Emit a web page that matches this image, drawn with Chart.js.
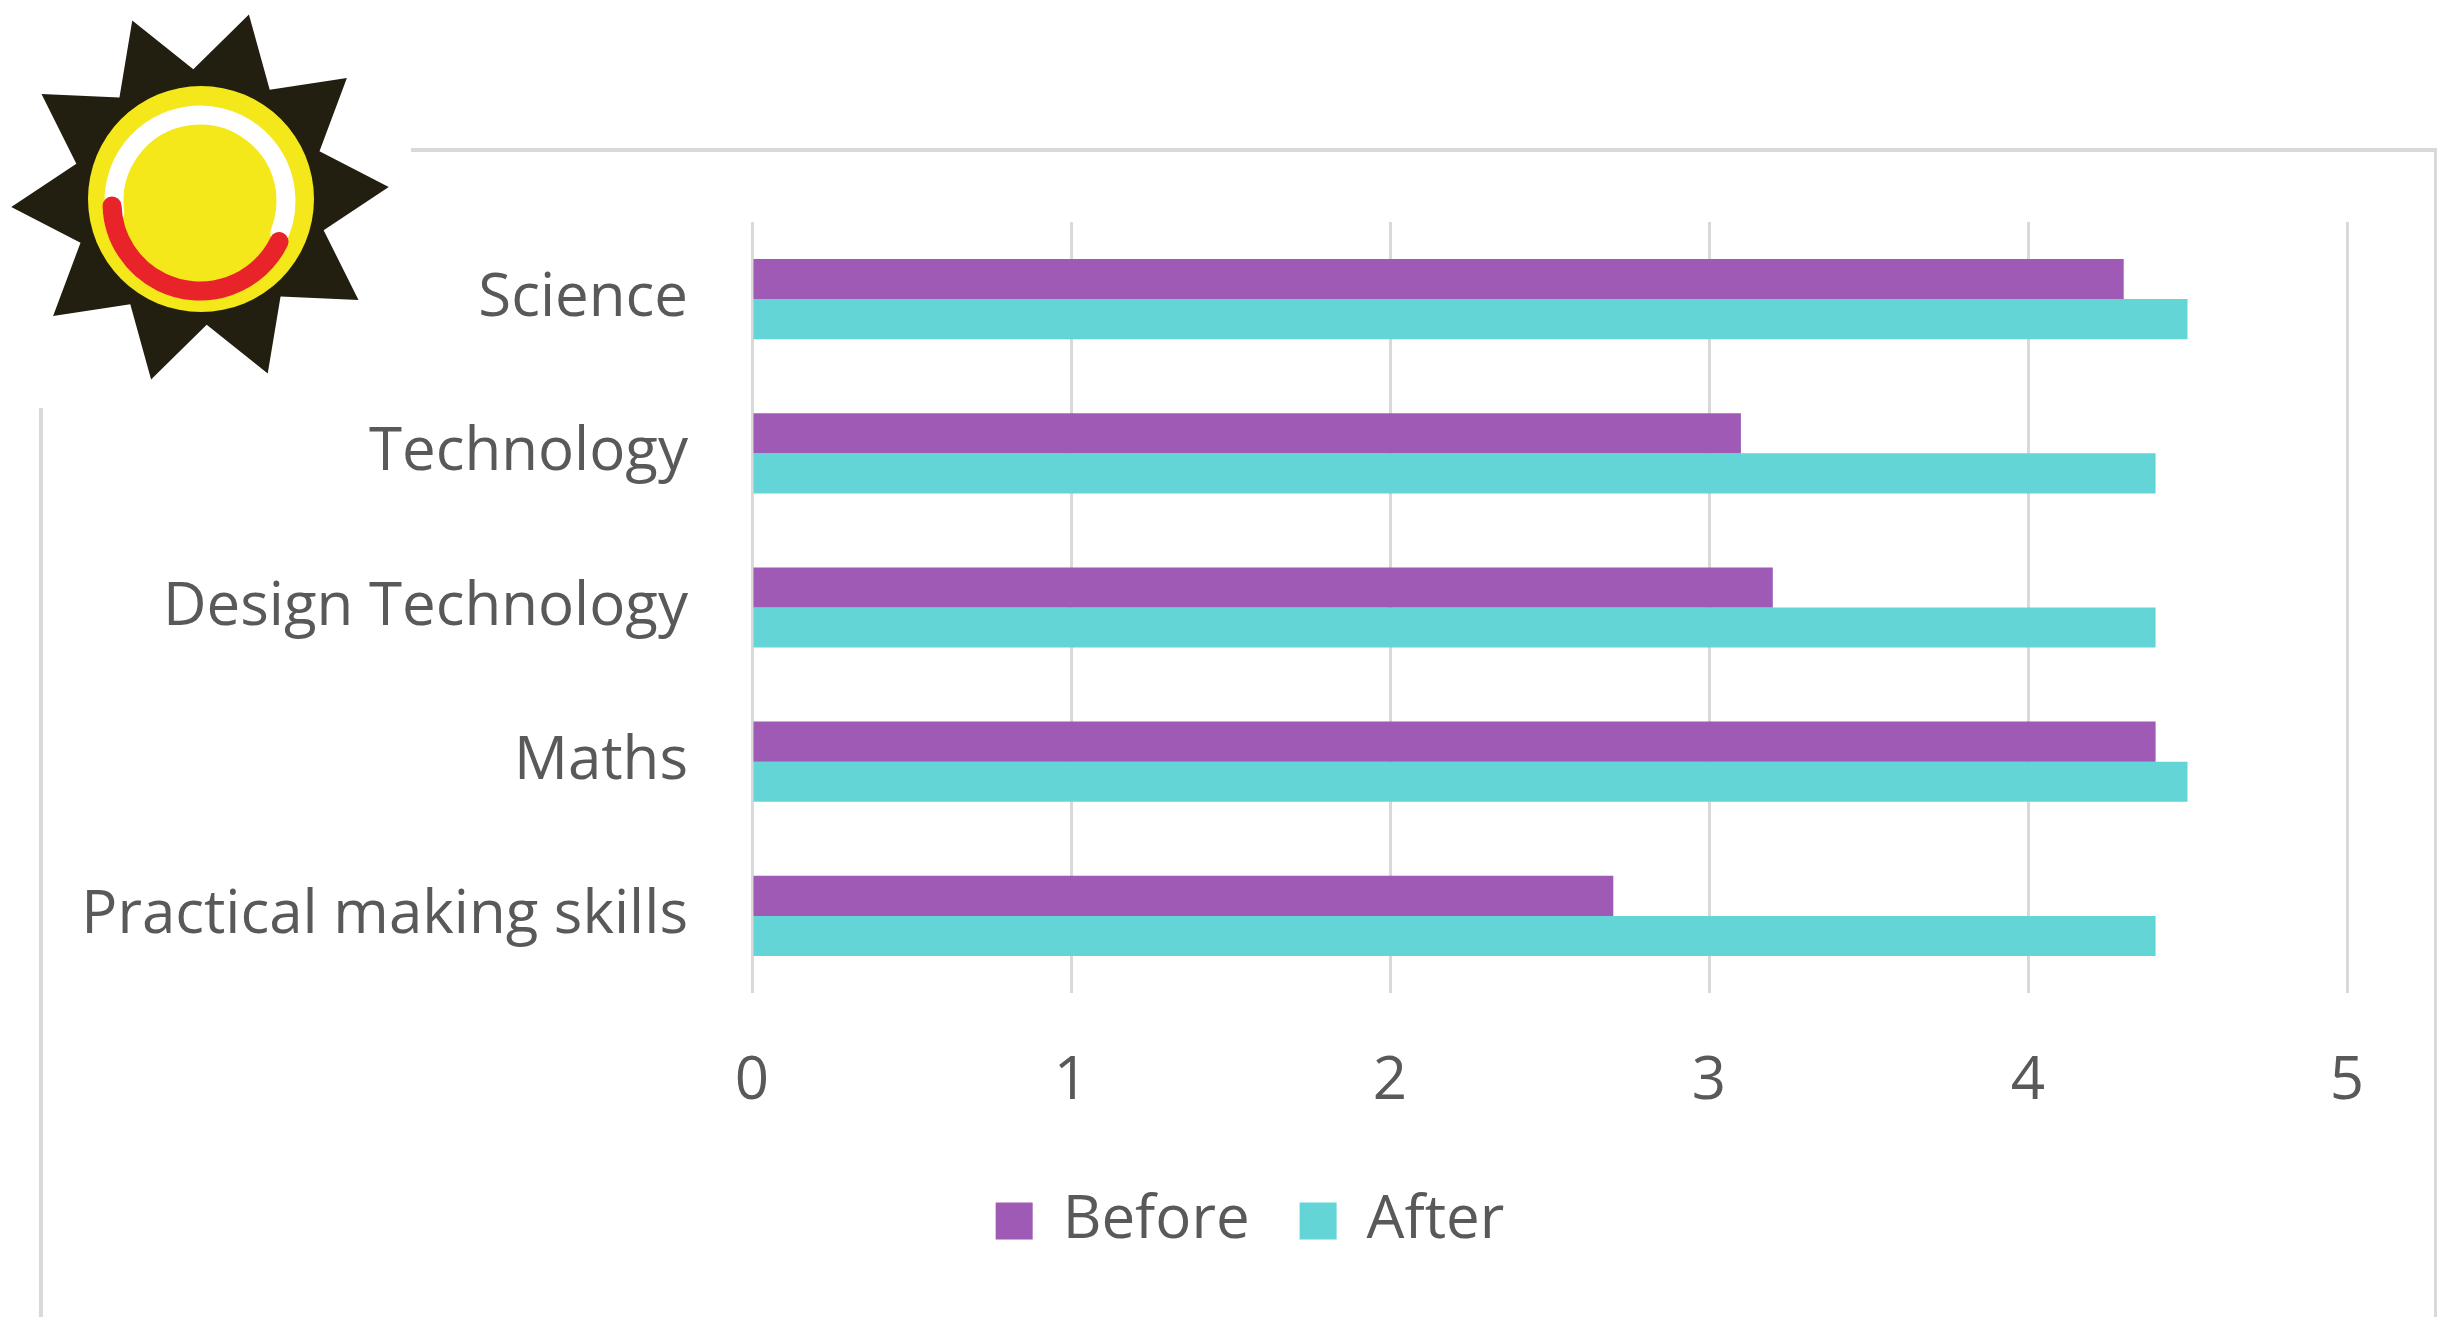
<!DOCTYPE html>
<html>
<head>
<meta charset="utf-8">
<script src="https://cdn.jsdelivr.net/npm/chart.js@4/dist/chart.umd.min.js"></script>
<style>
  html, body { margin: 0; padding: 0; background: #fff; }
  #wrap { width: 2437px; height: 1317px; position: relative; }
</style>
</head>
<body>
<div id="wrap"><canvas id="subjectsChart"></canvas></div>
<script>
const subjects = ['Science', 'Technology', 'Design Technology', 'Maths', 'Practical making skills'];
const beforeScores = [4.3, 3.1, 3.2, 4.4, 2.7];
const afterScores = [4.5, 4.4, 4.4, 4.5, 4.4];
const scoreTicks = [0, 1, 2, 3, 4, 5];

const textColor = '#595959';
const lineGrey = '#d9d9d9';
const legendCenterX = 1250;

// outline of the card plus the sun badge in the top-left corner
const framePlugin = {
  id: 'frame',
  afterLayout(chart) {
    // legend sits a little right of the canvas centre
    const lg = chart.legend;
    if (lg) {
      const d = legendCenterX - (lg.left + lg.right) / 2;
      lg.left += d;
      lg.right += d;
    }
  },
  beforeDraw(chart) {
    const ctx = chart.ctx;
    ctx.save();
    ctx.fillStyle = lineGrey;
    ctx.fillRect(411, 148, 2437 - 411, 4);
    ctx.fillRect(2434, 148, 4, 1317 - 148);
    ctx.fillRect(39, 408, 4, 1317 - 408);
    ctx.restore();
  },
  afterDraw(chart) {
    const ctx = chart.ctx;
    const cx = 200, cy = 197;
    ctx.save();
    // star
    ctx.beginPath();
    const pts = 10;
    for (let i = 0; i < pts * 2; i++) {
      const r = i % 2 === 0 ? 189 : 128;
      const a = (-111 + i * 18) * Math.PI / 180;
      const x = cx + r * Math.cos(a);
      const y = cy + r * Math.sin(a);
      if (i === 0) ctx.moveTo(x, y); else ctx.lineTo(x, y);
    }
    ctx.closePath();
    ctx.fillStyle = '#221f10';
    ctx.fill();
    // disc
    ctx.beginPath();
    ctx.arc(cx + 1, cy + 2, 113, 0, Math.PI * 2);
    ctx.fillStyle = '#f4e81a';
    ctx.fill();
    // painted ring
    ctx.lineCap = 'round';
    ctx.lineWidth = 19;
    ctx.strokeStyle = '#ffffff';
    ctx.beginPath();
    ctx.arc(cx, cy + 4, 86, 172 * Math.PI / 180, 382 * Math.PI / 180);
    ctx.stroke();
    ctx.strokeStyle = '#e8232a';
    ctx.beginPath();
    ctx.arc(cx, cy + 6, 88, 26 * Math.PI / 180, 178 * Math.PI / 180);
    ctx.stroke();
    ctx.restore();
  }
};

const ctx = document.getElementById('subjectsChart').getContext('2d');
new Chart(ctx, {
  type: 'bar',
  data: {
    labels: subjects,
    datasets: [
      { label: 'Before', data: beforeScores, backgroundColor: '#9e5ab4' },
      { label: 'After', data: afterScores, backgroundColor: '#64d5d6' }
    ]
  },
  options: {
    indexAxis: 'y',
    responsive: true,
    maintainAspectRatio: false,
    animation: false,
    devicePixelRatio: 1,
    datasets: {
      bar: { categoryPercentage: 0.52, barPercentage: 1.0 }
    },
    layout: { padding: { top: 222, left: 40, right: 90, bottom: 56 } },
    scales: {
      x: {
        min: 0,
        max: 5,
        afterBuildTicks: (scale) => { scale.ticks = scoreTicks.map(v => ({ value: v })); },
        afterFit: (scale) => { scale.height = 148; },
        grid: { color: lineGrey, lineWidth: 3, drawTicks: false },
        border: { display: false },
        ticks: {
          padding: 53,
          color: textColor,
          font: { family: 'Open Sans', size: 60 }
        }
      },
      y: {
        afterFit: (scale) => { scale.width = 752 - 40; },
        grid: { display: false, drawTicks: false },
        border: { display: false },
        ticks: {
          padding: 64,
          color: textColor,
          font: { family: 'Open Sans', size: 60 }
        }
      }
    },
    plugins: {
      legend: {
        position: 'bottom',
        labels: {
          boxWidth: 37,
          boxHeight: 37,
          padding: 50,
          color: textColor,
          font: { family: 'Open Sans', size: 60 }
        }
      },
      tooltip: { enabled: false }
    }
  },
  plugins: [framePlugin]
});
</script>
</body>
</html>
